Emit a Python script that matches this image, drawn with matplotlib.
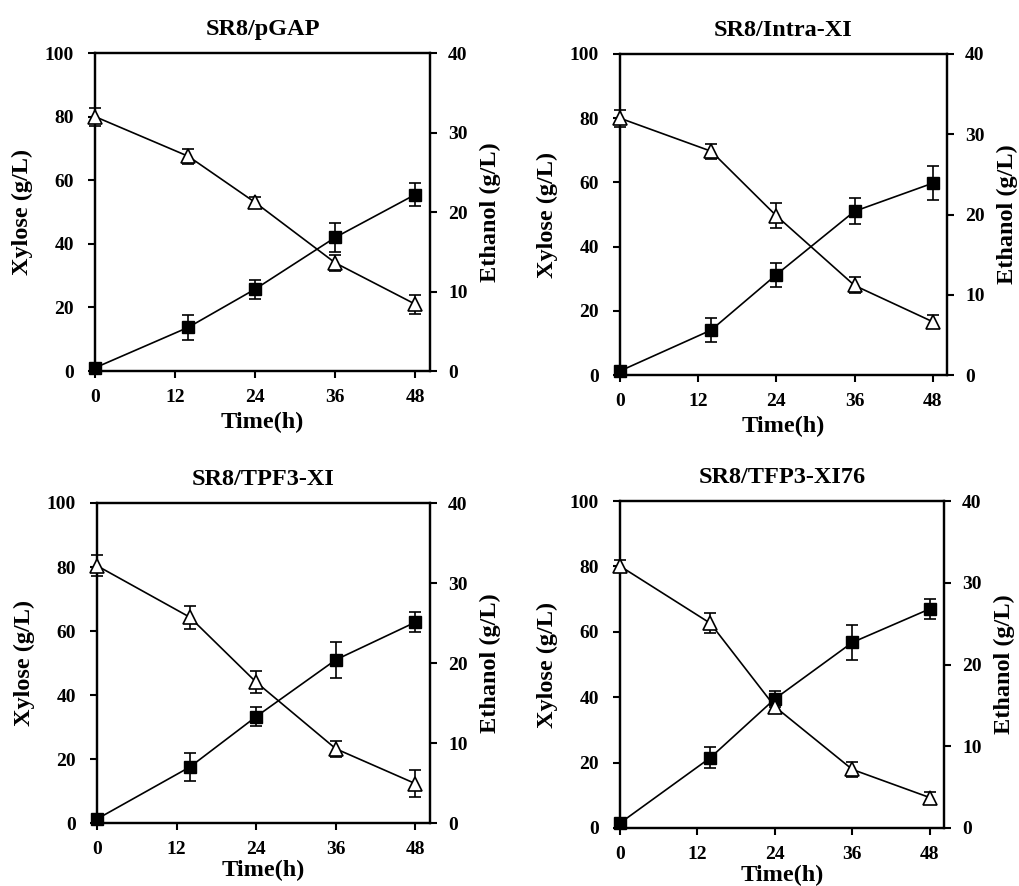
import matplotlib
matplotlib.use("Agg")
import matplotlib.pyplot as plt

plt.rcParams['font.family'] = ['Liberation Serif', 'DejaVu Serif']
plt.rcParams['font.weight'] = 'bold'

time_h = [0, 14, 24, 36, 48]
x_ticks = [0, 12, 24, 36, 48]

titles = ["SR8/pGAP", "SR8/Intra-XI", "SR8/TPF3-XI", "SR8/TFP3-XI76"]

xylose_pgap = [80.0, 67.5, 53.0, 34.0, 21.0]
xylose_pgap_err = [2.8, 2.4, 1.8, 2.4, 3.0]
ethanol_pgap = [0.4, 5.5, 10.3, 16.8, 22.2]
ethanol_pgap_err = [0.3, 1.6, 1.2, 1.85, 1.5]

xylose_intra = [80.0, 69.7, 49.6, 27.9, 16.6]
xylose_intra_err = [2.6, 2.4, 3.9, 2.5, 2.0]
ethanol_intra = [0.5, 5.6, 12.5, 20.4, 23.9]
ethanol_intra_err = [0.3, 1.5, 1.5, 1.6, 2.1]

xylose_tpf3 = [80.4, 64.3, 44.0, 23.2, 12.3]
xylose_tpf3_err = [3.2, 3.6, 3.4, 2.5, 4.2]
ethanol_tpf3 = [0.5, 7.0, 13.3, 20.4, 25.1]
ethanol_tpf3_err = [0.3, 1.8, 1.2, 2.25, 1.25]

xylose_xi76 = [80.1, 62.6, 37.1, 17.9, 9.3]
xylose_xi76_err = [1.8, 3.0, 1.5, 2.2, 1.8]
ethanol_xi76 = [0.6, 8.6, 15.8, 22.7, 26.8]
ethanol_xi76_err = [0.3, 1.3, 0.95, 2.1, 1.25]

xylose_all = [xylose_pgap, xylose_intra, xylose_tpf3, xylose_xi76]
xylose_err_all = [xylose_pgap_err, xylose_intra_err, xylose_tpf3_err, xylose_xi76_err]
ethanol_all = [ethanol_pgap, ethanol_intra, ethanol_tpf3, ethanol_xi76]
ethanol_err_all = [ethanol_pgap_err, ethanol_intra_err, ethanol_tpf3_err, ethanol_xi76_err]

W, H = 1019, 886
fig = plt.figure(figsize=(W / 100, H / 100), dpi=100)

# pixel boxes: left, top, right, bottom
boxes = [(95, 53, 430, 371), (620, 54, 947, 375), (97, 503, 430, 823), (620, 501, 944, 828)]
xlabel_off = [51, 51, 47, 47]

for i, (l, t, r, b) in enumerate(boxes):
    ax = fig.add_axes([l / W, 1 - b / H, (r - l) / W, (b - t) / H])
    ax2 = ax.twinx()
    ax.set_xlim(0, 50.2)
    ax.set_ylim(0, 100)
    ax2.set_ylim(0, 40)
    ax.set_xticks(x_ticks)
    ax.set_yticks([0, 20, 40, 60, 80, 100])
    ax2.set_yticks([0, 10, 20, 30, 40])
    for a in (ax, ax2):
        for s in a.spines.values():
            s.set_linewidth(1.6)
        a.tick_params(direction='out', length=5, width=1.5, labelsize=14)
    ax.tick_params(axis='x', pad=8)
    ax.tick_params(axis='y', pad=10)
    ax2.tick_params(axis='y', pad=8)
    for lab in ax.get_xticklabels() + ax.get_yticklabels() + ax2.get_yticklabels():
        lab.set_fontweight('bold')

    # ethanol (filled squares) on right axis
    ax2.errorbar(time_h, ethanol_all[i], yerr=ethanol_err_all[i], color='black',
                 marker='s', markersize=9, markerfacecolor='black', markeredgecolor='black',
                 linewidth=1.2, elinewidth=1.2, capsize=4, capthick=1.2, clip_on=False, zorder=3)
    # xylose (open triangles) on left axis
    ax2.errorbar(time_h, [v * 0.4 for v in xylose_all[i]],
                 yerr=[e * 0.4 for e in xylose_err_all[i]], color='black',
                 marker='^', markersize=10, markerfacecolor='white', markeredgecolor='black',
                 markeredgewidth=1.2, linewidth=1.2, elinewidth=1.2, capsize=4, capthick=1.2,
                 clip_on=False, zorder=4)

    ax.set_title(titles[i], fontsize=17.5, fontweight='bold', pad=13)
    ax.set_ylabel("Xylose (g/L)", fontsize=17.5, fontweight='bold')
    ax2.set_ylabel("Ethanol (g/L)", fontsize=17.5, fontweight='bold')
    ax.set_xlabel("Time(h)", fontsize=17.5, fontweight='bold')
    ax.yaxis.set_label_coords(-(73) / (r - l), 0.5)
    ax2.yaxis.set_label_coords(1 + 60 / (r - l), 0.5)
    ax.xaxis.set_label_coords(0.5, -(xlabel_off[i]) / (b - t))
    ax.xaxis.label.set_va('center')
    ax.yaxis.label.set_va('center')
    ax2.yaxis.label.set_va('center')

fig.savefig("out.png", dpi=100)
